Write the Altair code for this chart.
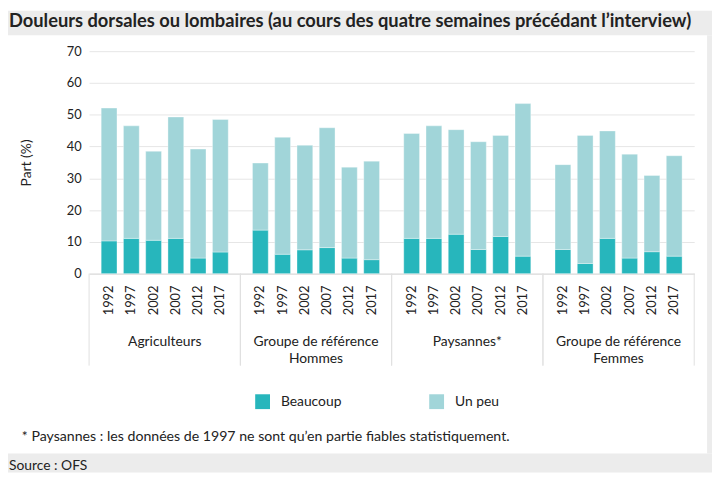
import altair as alt
import pandas as pd

FONT = "Lato"

TITLE = "Douleurs dorsales ou lombaires (au cours des quatre semaines précédant l’interview)"
FOOTNOTE = "* Paysannes : les données de 1997 ne sont qu’en partie fiables statistiquement."
SOURCE = "Source : OFS"
Y_TITLE = "Part (%)"

GROUPS = ["Agriculteurs", "Groupe de référence|Hommes", "Paysannes*", "Groupe de référence|Femmes"]
YEARS = ["1992", "1997", "2002", "2007", "2012", "2017"]
TYPES = ["Beaucoup", "Un peu"]
COLORS = ["#27b6bc", "#a1d5d9"]

BEAUCOUP = [
    [10.3, 11.1, 10.5, 11.1, 4.9, 6.8],
    [13.7, 6.1, 7.5, 8.2, 4.9, 4.4],
    [11.1, 11.1, 12.4, 7.6, 11.7, 5.5],
    [7.6, 3.2, 11.1, 4.9, 6.9, 5.5],
]
UN_PEU = [
    [41.8, 35.4, 28.0, 38.2, 34.3, 41.7],
    [21.1, 36.8, 32.9, 37.7, 28.6, 31.0],
    [33.0, 35.4, 32.9, 33.9, 31.8, 48.0],
    [26.7, 40.3, 33.8, 32.7, 24.0, 31.6],
]
Y_TICKS = [0, 10, 20, 30, 40, 50, 60, 70]

rows = []
for g, bl, ul in zip(GROUPS, BEAUCOUP, UN_PEU):
    for yr, bv, uv in zip(YEARS, bl, ul):
        rows.append({"groupe": g, "annee": yr, "type": TYPES[0], "ordre": 0, "part": bv})
        rows.append({"groupe": g, "annee": yr, "type": TYPES[1], "ordre": 1, "part": uv})
df = pd.DataFrame(rows)

W, H = 612, 225
TXT = "#222222"

x_axis = alt.Axis(title=None, labelAngle=0, ticks=False, domain=True, domainColor="#dadada",
                  domainWidth=1, grid=False, labelPadding=62,
                  labelExpr="split(datum.label, '|')", labelFontSize=14, labelLineHeight=17,
                  labelColor=TXT, labelFont=FONT)
x_scale = alt.Scale(paddingInner=0, paddingOuter=0)


def mk_x(bp=None):
    if bp is None:
        return alt.X("groupe:N", sort=GROUPS, scale=x_scale, axis=x_axis)
    return alt.X("groupe:N", sort=GROUPS, scale=x_scale, axis=x_axis, bandPosition=bp)


xo = alt.XOffset("annee:N", sort=YEARS, scale=alt.Scale(paddingInner=0.29, paddingOuter=0.544))

bars = alt.Chart(df).mark_bar(stroke="#ffffff", strokeWidth=0.6, strokeOpacity=0.6).encode(
    x=mk_x(),
    xOffset=xo,
    y=alt.Y("part:Q", stack="zero", scale=alt.Scale(domain=[0, 70], nice=False),
            axis=alt.Axis(title=Y_TITLE, values=Y_TICKS, domain=False, ticks=False,
                          gridColor="#e6e6e6", gridWidth=1, labelPadding=8,
                          labelFontSize=13, labelFont=FONT, labelColor=TXT,
                          titleFontSize=14, titleFont=FONT, titleColor=TXT,
                          titleFontWeight="normal", titleAngle=270, titleAlign="center",
                          titleBaseline="middle", titleX=-63, titleY=H / 2)),
    color=alt.Color("type:N", scale=alt.Scale(domain=TYPES, range=COLORS),
                    legend=alt.Legend(title=None, orient="none", legendX=168, legendY=347,
                                      direction="horizontal", symbolType="square",
                                      symbolSize=225, symbolStrokeWidth=0,
                                      labelFontSize=14, labelFont=FONT, labelColor=TXT,
                                      labelOffset=11, columnPadding=88, padding=0)),
    order=alt.Order("ordre:Q"),
)

years = alt.Chart(df).transform_filter(alt.datum.type == TYPES[0]).mark_text(
    angle=270, align="right", baseline="middle", fontSize=13, font=FONT, color=TXT
).encode(x=mk_x(), xOffset=xo, y=alt.value(H + 12), text="annee:N")

gdf = pd.DataFrame({"groupe": GROUPS})
sep0 = alt.Chart(gdf).mark_rule(color="#e0e0e0", strokeWidth=1).encode(
    x=mk_x(0), y=alt.value(H), y2=alt.value(H + 93))
sep1 = alt.Chart(gdf).mark_rule(color="#e0e0e0", strokeWidth=1).encode(
    x=mk_x(1), y=alt.value(H), y2=alt.value(H + 93))

one = pd.DataFrame({"k": [0]})
GRAY = "#ececec"
band_top = alt.Chart(one).mark_rect(color=GRAY).encode(
    x=alt.value(-82), x2=alt.value(630), y=alt.value(-41), y2=alt.value(-16))
band_bot = alt.Chart(one).mark_rect(color=GRAY).encode(
    x=alt.value(-82), x2=alt.value(630), y=alt.value(407), y2=alt.value(426))
band_right = alt.Chart(one).mark_rect(color=GRAY).encode(
    x=alt.value(625), x2=alt.value(630), y=alt.value(-16), y2=alt.value(407))

title = alt.Chart(pd.DataFrame({"t": [TITLE]})).mark_text(
    align="left", baseline="alphabetic", fontSize=18.5, fontWeight="bold", font=FONT, color=TXT
).encode(x=alt.value(-81), y=alt.value(-24), text="t:N")
foot = alt.Chart(pd.DataFrame({"t": [FOOTNOTE]})).mark_text(
    align="left", baseline="alphabetic", fontSize=14.3, font=FONT, color=TXT
).encode(x=alt.value(-68), y=alt.value(394), text="t:N")
source = alt.Chart(pd.DataFrame({"t": [SOURCE]})).mark_text(
    align="left", baseline="alphabetic", fontSize=14, font=FONT, color=TXT
).encode(x=alt.value(-81), y=alt.value(424), text="t:N")

chart = alt.layer(band_top, band_bot, band_right, sep0, sep1, bars, years, title, foot, source).properties(
    width=W, height=H, padding=0, background="#ffffff"
).configure_view(stroke=None)

chart.save("out.html", embed_options={"renderer": "svg", "actions": False})
